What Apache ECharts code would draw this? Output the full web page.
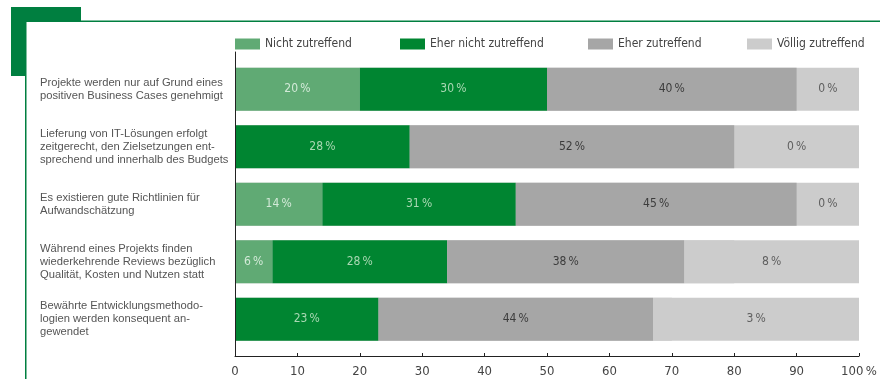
<!DOCTYPE html>
<html>
<head>
<meta charset="utf-8">
<script src="https://cdn.jsdelivr.net/npm/echarts@6/dist/echarts.min.js"></script>
<style>
  html, body { margin: 0; padding: 0; background: #ffffff; }
  #chart { width: 880px; height: 379px; }
</style>
</head>
<body>
<div id="chart"></div>
<script>
// Statements (top to bottom)
const categories = [
  'Projekte werden nur auf Grund eines\npositiven Business Cases genehmigt',
  'Lieferung von IT-Lösungen erfolgt\nzeitgerecht, den Zielsetzungen ent-\nsprechend und innerhalb des Budgets',
  'Es existieren gute Richtlinien für\nAufwandschätzung',
  'Während eines Projekts finden\nwiederkehrende Reviews bezüglich\nQualität, Kosten und Nutzen statt',
  'Bewährte Entwicklungsmethodo-\nlogien werden konsequent an-\ngewendet'
];

// Answer shares in percent
const nichtZutreffend     = [20, 0, 14, 6, 0];
const eherNichtZutreffend = [30, 28, 31, 28, 23];
const eherZutreffend      = [40, 52, 45, 38, 44];
const voelligZutreffend   = [0, 0, 0, 8, 3];

// Full scale of each bar (the light track behind the answers)
const fullScale = [100, 100, 100, 100, 100];

const seriesNames = ['Nicht zutreffend', 'Eher nicht zutreffend', 'Eher zutreffend', 'Völlig zutreffend'];
const legendLeft = [235, 400, 588, 747];
const xTicks = [0, 10, 20, 30, 40, 50, 60, 70, 80, 90, 100];

const C_LIGHTGREEN = '#60aa74';
const C_GREEN = '#008531';
const C_DARKGRAY = '#a6a6a6';
const C_LIGHTGRAY = '#cccccc';
const FRAME_GREEN = '#007f40';
const NARROW = '"Liberation Sans Narrow", "DejaVu Sans Condensed", sans-serif';
const REGULAR = '"Liberation Sans", Arial, sans-serif';
const PCT = '\u2009%';

function pct(v) { return v + PCT; }

function barSeries(name, data, color, labelColor) {
  return {
    name: name,
    type: 'bar',
    stack: 'answers',
    data: data,
    barWidth: 43,
    barGap: '-100%',
    z: 3,
    itemStyle: { color: color },
    label: {
      show: true,
      position: 'inside',
      fontFamily: NARROW,
      fontSize: 12,
      color: labelColor,
      formatter: p => (p.value > 0 ? pct(p.value) : '')
    },
    emphasis: { disabled: true },
    silent: true,
    xAxisIndex: 0,
    yAxisIndex: 0
  };
}

// Labels of the last answer sit in the middle of the remaining light part of the bar
const voelligLabelPoints = categories.map((c, i) => {
  const before = nichtZutreffend[i] + eherNichtZutreffend[i] + eherZutreffend[i];
  return { value: [(before + fullScale[i]) / 2, i], answer: voelligZutreffend[i] };
});

const legends = seriesNames.map((name, i) => ({
  data: [name],
  left: legendLeft[i],
  top: 38,
  padding: 0,
  itemWidth: 25,
  itemHeight: 11,
  icon: 'rect',
  selectedMode: false,
  textStyle: { fontFamily: NARROW, fontSize: 12, color: '#444444' }
}));

const chart = echarts.init(document.getElementById('chart'), null, { renderer: 'canvas' });

chart.setOption({
  animation: false,
  backgroundColor: '#ffffff',
  graphic: [
    { type: 'rect', z: -2, shape: { x: 11, y: 7, width: 70, height: 69 }, style: { fill: FRAME_GREEN } },
    { type: 'rect', z: -1, shape: { x: 25.75, y: 21.25, width: 900, height: 400 },
      style: { fill: '#ffffff', stroke: FRAME_GREEN, lineWidth: 1.5 } }
  ],
  legend: legends,
  grid: [
    { left: 235, right: 21, top: 60.5, height: 287.5 },
    { left: 235, right: 21, top: 52, height: 304 }
  ],
  xAxis: [
    {
      gridIndex: 0,
      type: 'value',
      z: 4,
      min: 0,
      max: 100,
      interval: 10,
      offset: 8,
      axisLine: { show: true, lineStyle: { color: '#222222', width: 1 } },
      axisTick: { show: true, inside: true, length: 3, lineStyle: { color: '#222222' } },
      splitLine: { show: false },
      axisLabel: {
        fontFamily: NARROW,
        fontSize: 13,
        color: '#444444',
        margin: 9,
        formatter: v => (xTicks.indexOf(v) === xTicks.length - 1 ? v + PCT : String(v))
      }
    },
    { gridIndex: 1, type: 'value', min: 0, max: 100, show: false }
  ],
  yAxis: [
    {
      gridIndex: 0,
      type: 'category',
      z: 4,
      data: categories,
      inverse: true,
      axisLine: { show: false },
      axisTick: { show: false },
      axisLabel: {
        align: 'left',
        margin: 195,
        fontFamily: REGULAR,
        fontSize: 11.2,
        lineHeight: 13,
        color: '#555555'
      }
    },
    {
      gridIndex: 1,
      type: 'value',
      z: 4,
      min: 0,
      max: 1,
      axisLine: { show: true, lineStyle: { color: '#222222', width: 1 } },
      axisTick: { show: false },
      axisLabel: { show: false },
      splitLine: { show: false }
    }
  ],
  series: [
    {
      name: 'track',
      type: 'bar',
      data: fullScale,
      barWidth: 43,
      barGap: '-100%',
      z: 2,
      itemStyle: { color: C_LIGHTGRAY },
      silent: true,
      xAxisIndex: 0,
      yAxisIndex: 0
    },
    barSeries(seriesNames[0], nichtZutreffend, C_LIGHTGREEN, '#d3ead8'),
    barSeries(seriesNames[1], eherNichtZutreffend, C_GREEN, '#a9d8b3'),
    barSeries(seriesNames[2], eherZutreffend, C_DARKGRAY, '#3c3c3c'),
    Object.assign(barSeries(seriesNames[3], voelligZutreffend, C_LIGHTGRAY, '#444444'),
      { label: { show: false } }),
    {
      name: 'voelligLabels',
      type: 'scatter',
      data: voelligLabelPoints,
      symbolSize: 1,
      z: 5,
      itemStyle: { color: 'rgba(0,0,0,0)' },
      silent: true,
      label: {
        show: true,
        position: 'inside',
        fontFamily: NARROW,
        fontSize: 12,
        color: '#444444',
        formatter: p => pct(p.data.answer)
      },
      xAxisIndex: 0,
      yAxisIndex: 0
    }
  ]
});
</script>
</body>
</html>
